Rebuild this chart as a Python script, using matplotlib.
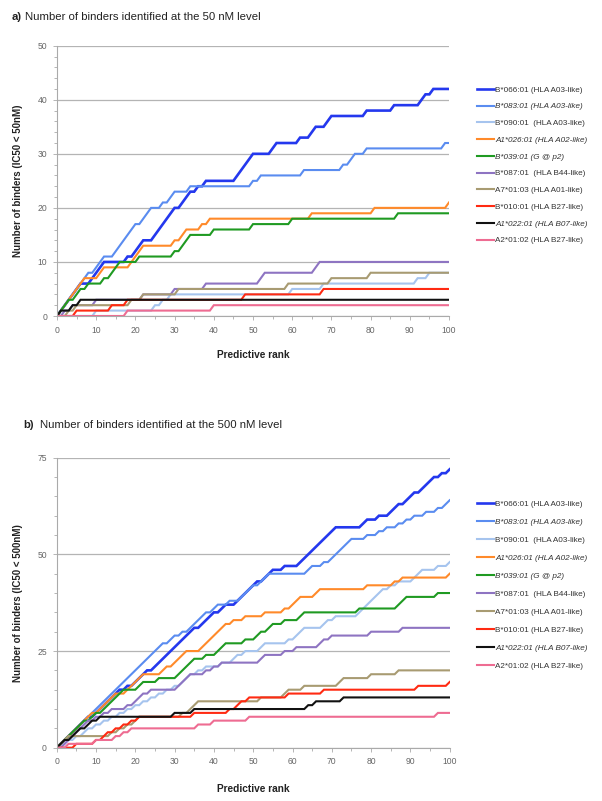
import numpy as np
import matplotlib
matplotlib.use("Agg")
from matplotlib import pyplot as plt
from matplotlib.ticker import MultipleLocator

plt.rcParams['font.family'] = ['Liberation Sans', 'DejaVu Sans']

ranks = np.arange(0, 101)

labels = ["B*066:01 (HLA A03-like)", "B*083:01 (HLA A03-like)", "B*090:01  (HLA A03-like)",
          "A1*026:01 (HLA A02-like)", "B*039:01 (G @ p2)", "B*087:01  (HLA B44-like)",
          "A7*01:03 (HLA A01-like)", "B*010:01 (HLA B27-like)", "A1*022:01 (HLA B07-like)",
          "A2*01:02 (HLA B27-like)"]
italic = [False, True, False, True, True, False, False, False, True, False]
colors = ["#2438ee", "#5a8cf0", "#a6c4ee", "#ff8a2a", "#1f9a22", "#8e74c2",
          "#a89b72", "#ff2a12", "#111111", "#ee6c92"]

# predictive ranks at which a binder was found (IC50 < 50 nM)
b066_50 = [1, 2, 3, 4, 5, 6, 9, 10, 11, 12, 18, 20, 21, 22, 25, 26, 27, 28, 29, 30, 32, 33, 34,
           36, 38, 46, 47, 48, 49, 50, 55, 56, 62, 65, 66, 69, 70, 79, 86, 93, 94, 96]
b083_50 = [1, 2, 3, 4, 5, 6, 7, 8, 10, 11, 12, 15, 16, 17, 18, 19, 20, 22, 23, 24, 27, 29, 30,
           34, 50, 52, 63, 73, 75, 76, 79, 99]
b090_50 = [10, 25, 27, 29, 60, 68, 92, 95]
a1026_50 = [1, 2, 3, 4, 5, 6, 7, 11, 12, 19, 20, 21, 22, 30, 32, 33, 37, 39, 65, 81, 100]
b039_50 = [1, 2, 3, 5, 6, 8, 12, 14, 15, 16, 21, 30, 32, 33, 34, 40, 50, 60, 87]
b087_50 = [2, 4, 10, 22, 30, 38, 52, 53, 66, 67]
a701_50 = [3, 5, 19, 22, 31, 59, 70, 80]
b010_50 = [5, 14, 18, 48, 68]
a1022_50 = [1, 4, 6]
a201_50 = [18, 40]

# predictive ranks at which a binder was found (IC50 < 500 nM)
b066_500 = [1, 2, 3, 4, 5, 6, 7, 8, 10, 11, 12, 13, 14, 15, 16, 18, 20, 21, 22, 23,
            25, 26, 27, 28, 29, 30, 31, 32, 33, 34, 35, 37, 38, 39, 40, 42, 43,
            46, 47, 48, 49, 50, 51, 53, 54, 55, 58, 62, 63, 64, 65, 66, 67, 68, 69, 70, 71,
            78, 79, 82, 85, 86, 87, 89, 90, 91, 93, 94, 95, 96, 98, 100]
b083_500 = [1, 2, 3, 4, 5, 6, 7, 8, 9, 10, 11, 12, 13, 14, 15, 16, 17, 18, 19, 20, 21, 22, 23,
            24, 25, 26, 27, 29, 30, 32, 34, 35, 36, 37, 38, 40, 41, 44, 47, 48, 49, 50, 52, 53,
            54, 64, 65, 68, 70, 71, 72, 73, 74, 75, 79, 82, 84, 87, 89, 91, 94, 97, 99, 100]
b090_500 = [2, 3, 5, 7, 8, 10, 12, 14, 16, 18, 20, 22, 24, 26, 28, 30, 32, 33, 34, 36, 38, 42,
            45, 46, 48, 52, 53, 59, 61, 62, 63, 68, 69, 71, 77, 78, 79, 80, 81, 82, 83, 85, 87,
            91, 92, 93, 97, 100]
a1026_500 = [1, 2, 3, 4, 5, 6, 7, 8, 9, 11, 12, 13, 14, 15, 18, 19, 20, 21, 22, 27, 28,
             30, 31, 32, 33, 37, 38, 39, 40, 41, 42, 43, 45, 48, 53, 58, 60, 61, 62, 66, 67,
             79, 86, 88, 100]
b039_500 = [1, 2, 3, 4, 5, 6, 7, 9, 10, 12, 13, 14, 15, 16, 17, 21, 22, 26, 31, 32, 33, 34, 35,
            38, 41, 42, 43, 48, 51, 52, 54, 55, 58, 62, 63, 77, 87, 88, 89, 97]
b087_500 = [2, 3, 4, 5, 6, 7, 8, 10, 12, 14, 18, 20, 21, 22, 24, 31, 32, 33, 34, 38, 40, 42,
            52, 53, 58, 61, 67, 68, 70, 80, 88]
a701_500 = [1, 2, 3, 14, 16, 18, 20, 21, 32, 34, 35, 36, 52, 58, 59, 63, 72, 73, 80, 87]
b010_500 = [5, 10, 12, 13, 15, 17, 19, 21, 35, 44, 46, 47, 49, 59, 68, 92, 100]
a1022_500 = [1, 2, 4, 5, 6, 8, 9, 11, 30, 35, 64, 66, 73]
a201_500 = [3, 10, 15, 17, 19, 36, 40, 49, 97]

hits_50 = [b066_50, b083_50, b090_50, a1026_50, b039_50, b087_50, a701_50, b010_50, a1022_50, a201_50]
hits_500 = [b066_500, b083_500, b090_500, a1026_500, b039_500, b087_500, a701_500, b010_500,
            a1022_500, a201_500]


def cumulative(hits):
    hits = np.array(hits)
    return np.array([np.sum(hits <= r) for r in ranks])


def draw_panel(ax, hits_list, ymax, ymajor, yminor, ylabel, leg_y, leg_space):
    for i, hits in enumerate(hits_list):
        lw = 1.9 if i == 0 else 1.5
        ax.plot(ranks, cumulative(hits), color=colors[i], lw=lw, label=labels[i],
                solid_joinstyle='miter')
    ax.set_xlim(0, 100)
    ax.set_ylim(0, ymax)
    ax.xaxis.set_major_locator(MultipleLocator(10))
    ax.xaxis.set_minor_locator(MultipleLocator(5))
    ax.yaxis.set_major_locator(MultipleLocator(ymajor))
    ax.yaxis.set_minor_locator(MultipleLocator(yminor))
    ax.yaxis.grid(True, color="#b4b4b4", lw=0.9)
    ax.set_axisbelow(True)
    for s in ["top", "right"]:
        ax.spines[s].set_visible(False)
    for s in ["left", "bottom"]:
        ax.spines[s].set_color("#aaaaaa")
        ax.spines[s].set_linewidth(0.8)
    ax.tick_params(which="both", colors="#aaaaaa", labelcolor="#666666", labelsize=6.2,
                   width=0.6, pad=4)
    ax.tick_params(which="major", length=3)
    ax.tick_params(which="minor", length=2)
    ax.set_ylabel(ylabel, fontsize=7.0, fontweight="bold", color="#222222")
    ax.yaxis.set_label_coords(-0.087, 0.5)
    ax.set_xlabel("Predictive rank", fontsize=7.3, fontweight="bold", color="#222222")
    ax.xaxis.set_label_coords(0.5, -0.125)
    leg = ax.legend(loc="upper left", bbox_to_anchor=(477 / 602, 1 - leg_y / 801),
                    bbox_transform=fig.transFigure, frameon=False, fontsize=5.9,
                    handlelength=2.1, handletextpad=0.1, labelspacing=leg_space,
                    borderpad=0, borderaxespad=0)
    for txt, it in zip(leg.get_texts(), italic):
        txt.set_color("#333333")
        if it:
            txt.set_fontstyle("italic")


fig = plt.figure(figsize=(6.02, 8.01), dpi=100)

ax1 = fig.add_axes([57 / 602, 1 - 316 / 801, 392 / 602, 270.3 / 801])
draw_panel(ax1, hits_50, 50, 10, 2, "Number of binders (IC50 < 50nM)", 86, 1.1)

ax2 = fig.add_axes([56.7 / 602, 1 - 747.7 / 801, 393 / 602, 290 / 801])
draw_panel(ax2, hits_500, 75, 25, 5, "Number of binders (IC50 < 500nM)", 500, 1.25)

fig.text(12 / 602, 1 - 17 / 801, "a)", fontsize=8.2, fontweight="bold", va="center", color="#222222")
fig.text(25 / 602, 1 - 17 / 801, "Number of binders identified at the 50 nM level", fontsize=8.2,
         va="center", color="#222222")
fig.text(23 / 602, 1 - 425 / 801, "b)", fontsize=8.2, fontweight="bold", va="center", color="#222222")
fig.text(40 / 602, 1 - 425 / 801, "Number of binders identified at the 500 nM level", fontsize=8.2,
         va="center", color="#222222")

fig.savefig("out.png", dpi=100)
